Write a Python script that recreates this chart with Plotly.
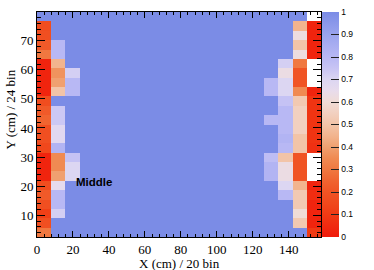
import plotly.graph_objects as go

# Binning (20 x bins over 0..158, 24 y bins over 2.5..79.9)
x_min, x_max, nx = 0.0, 158.0, 20
y_min, y_max, ny = 2.5, 79.9, 24

# Efficiency values per column (bottom row first); None = empty bin
col_00 = [0.30, 0.18, 0.12, 0.18, 0.22, 0.17, 0.03, 0.03, 0.03, 0.15, 0.18, 0.18,
          0.25, 0.22, 0.17, 0.03, 0.03, 0.03, 0.03, 0.30, 0.22, 0.18, 0.17, 1.0]
col_01 = [1.0, 1.0, 0.72, 0.80, 0.80, 0.66, 0.40, 0.35, 0.35, 0.82, 0.68, 0.68,
          0.74, 0.74, 1.0, 0.50, 0.40, 0.37, 0.45, 0.80, 0.80, 1.0, 1.0, 1.0]
col_02 = [1.0, 1.0, 1.0, 1.0, 1.0, 1.0, 0.70, 0.70, 0.76, 1.0, 1.0, 1.0,
          1.0, 1.0, 1.0, 0.80, 0.80, 0.72, 1.0, 1.0, 1.0, 1.0, 1.0, 1.0]
col_16 = [1.0, 1.0, 1.0, 1.0, 1.0, 1.0, 0.82, 0.82, 0.78, 1.0, 1.0, 1.0,
          0.80, 1.0, 1.0, 0.80, 0.80, 1.0, 1.0, 1.0, 1.0, 1.0, 1.0, 1.0]
col_17 = [1.0, 1.0, 1.0, 1.0, 0.80, 0.70, 0.63, 0.63, 0.50, 0.80, 0.82, 0.80,
          0.80, 0.80, 0.76, 0.70, 0.70, 0.63, 0.72, 1.0, 1.0, 1.0, 1.0, 1.0]
col_18 = [1.0, 0.52, 0.60, 0.52, 0.52, 0.45, 0.20, 0.20, 0.20, 0.50, 0.50, 0.55,
          0.55, 0.55, 0.52, 0.35, 0.20, 0.20, 0.30, 0.62, 0.50, 0.62, 0.45, 1.0]
col_19 = [0.10, 0.03, 0.03, 0.03, 0.06, 0.03, None, None, None, 0.07, 0.08, 0.08,
          0.08, 0.08, 0.08, 0.03, None, None, None, 0.03, 0.03, 0.03, 0.03, None]
col_full = [1.0] * ny  # fully efficient columns

columns = [col_00, col_01, col_02] + [col_full] * 13 + [col_16, col_17, col_18, col_19]

bw_x = (x_max - x_min) / nx
bw_y = (y_max - y_min) / ny
x_centers = [x_min + bw_x * (i + 0.5) for i in range(nx)]
y_centers = [y_min + bw_y * (j + 0.5) for j in range(ny)]
z = [[columns[i][j] for i in range(nx)] for j in range(ny)]

colorscale = [
    [0.00, "#f01a0a"], [0.05, "#f02a10"], [0.10, "#f03a14"], [0.15, "#f0481c"],
    [0.20, "#f05424"], [0.25, "#f06430"], [0.30, "#f07840"], [0.35, "#f08a52"],
    [0.40, "#f0a070"], [0.45, "#f2b48e"], [0.50, "#f2c4a8"], [0.55, "#f2d0c0"],
    [0.60, "#f0dcd6"], [0.65, "#e8dcec"], [0.70, "#dcd6f2"], [0.75, "#c8c4f4"],
    [0.80, "#b8b8f4"], [0.90, "#9aa4ee"], [1.00, "#7b8ce6"],
]

fig = go.Figure(go.Heatmap(
    x=x_centers, y=y_centers, z=z, zmin=0, zmax=1,
    colorscale=colorscale,
    colorbar=dict(
        x=1.003, xanchor="left", xpad=0, y=0.5, len=1, ypad=0,
        thickness=17, outlinewidth=0,
        ticks="inside", ticklen=8, tickcolor="#222", tickwidth=1,
        tick0=0, dtick=0.1,
        tickfont=dict(family="Liberation Sans", size=8.5, color="black"),
    ),
    hoverongaps=False,
))

axis_common = dict(
    showgrid=False, zeroline=False, showline=True, linecolor="black", linewidth=1,
    mirror="ticks", ticks="inside", tickcolor="black",
    tickfont=dict(family="Liberation Serif", size=13, color="black"),
)
fig.update_xaxes(range=[x_min, x_max], tick0=0, dtick=20, ticklen=6,
                 minor=dict(ticks="inside", ticklen=3, dtick=4, tickcolor="black"),
                 **axis_common)
fig.update_yaxes(range=[y_min, y_max], tick0=0, dtick=10, ticklen=8,
                 minor=dict(ticks="inside", ticklen=4, dtick=2, tickcolor="black"),
                 **axis_common)

fig.add_annotation(x=20.5, y=21.5, xref="x", yref="y", text="<b>Middle</b>",
                   showarrow=False, xanchor="left", yanchor="middle",
                   font=dict(family="Liberation Sans", size=11.5, color="black"))
fig.add_annotation(x=0.5, y=-0.117, xref="paper", yref="paper", text="X (cm) / 20 bin",
                   showarrow=False, xanchor="center", yanchor="middle",
                   font=dict(family="Liberation Serif", size=13, color="black"))
fig.add_annotation(x=-0.093, y=0.565, xref="paper", yref="paper", text="Y (cm) / 24 bin",
                   showarrow=False, xanchor="center", yanchor="middle", textangle=-90,
                   font=dict(family="Liberation Serif", size=13, color="black"))

fig.update_layout(
    width=374, height=270,
    margin=dict(l=37, r=37, t=12, b=33),
    paper_bgcolor="white", plot_bgcolor="white",
    showlegend=False,
)
# remove the default 8px page margin so the figure fills the window exactly
fig.write_html("out.html", config={"displayModeBar": False},
               post_script="document.body.style.margin='0';")
